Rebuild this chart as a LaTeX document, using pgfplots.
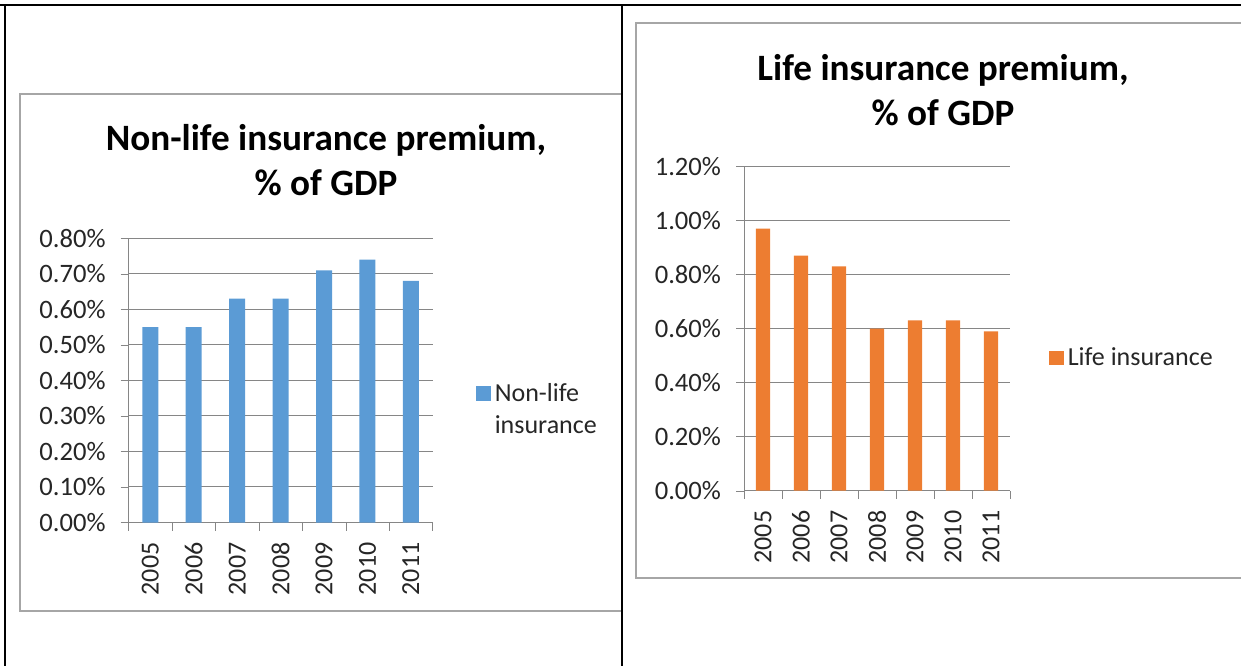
\documentclass[border=0pt]{standalone}
\usepackage{fontspec}
\setmainfont{Carlito}
\usepackage{pgfplots}
\pgfplotsset{compat=1.18}
\definecolor{barblue}{HTML}{5B9BD5}
\definecolor{barorange}{HTML}{ED7D31}
\definecolor{gridgray}{HTML}{868686}
\definecolor{framegray}{HTML}{A6A6A6}
\definecolor{txt}{HTML}{262626}
\pgfplotsset{
  excelbar/.style={
    scale only axis,
    ybar, bar width=#1, bar shift=0pt,
    xmin=-0.5, xmax=6.5,
    xtick={0,...,6},
    xticklabels={2005,2006,2007,2008,2009,2010,2011},
    minor xtick={-0.5,0.5,...,6.5},
    major x tick style={draw=none},
    minor tick length=4pt,
    major tick length=4pt,
    tick align=outside,
    axis x line*=bottom, axis y line*=left,
    axis line style={gridgray,-},
    tick style={gridgray},
    ymajorgrids, grid style={gridgray, line width=0.5pt},
    x tick label style={rotate=90, anchor=east, font=\fontsize{13}{13}\selectfont, text=txt},
    y tick label style={font=\fontsize{13.3}{13.3}\selectfont, text=txt},
    xticklabel shift=2.5pt,
    yticklabel shift=4pt,
    /pgf/number format/assume math mode=true,
    yticklabel={\pgfmathprintnumber[fixed,fixed zerofill,precision=2]{\tick}\%},
    legend cell align=left,
    legend style={draw=none, fill=none, font=\fontsize{13}{16}\selectfont, text=txt, cells={align=left}},
  }
}
\begin{document}
\begin{tikzpicture}
\useasboundingbox (0,0) rectangle (620.5pt,333pt);
% table frame
\draw[black, line width=0.9pt] (0,330.5pt) -- (620.5pt,330.5pt);
\draw[black, line width=0.9pt] (2.6pt,330.5pt) -- (2.6pt,0);
\draw[black, line width=0.9pt] (311pt,330.5pt) -- (311pt,0);
% chart frames
\draw[framegray, line width=0.8pt] (310.5pt,286pt) -- (10pt,286pt) -- (10pt,27.5pt) -- (310.5pt,27.5pt);
\draw[framegray, line width=0.8pt] (620.5pt,321.5pt) -- (318pt,321.5pt) -- (318pt,44pt) -- (620.5pt,44pt);
% titles
\node[align=center, font=\fontsize{18.6}{22.5}\selectfont\bfseries, anchor=center] at (163pt,253pt) {Non-life insurance premium,\\ \% of GDP};
\node[align=center, font=\fontsize{18.6}{22.5}\selectfont\bfseries, anchor=center] at (471.5pt,288pt) {Life insurance premium,\\ \% of GDP};

\begin{axis}[excelbar=8pt,
  at={(64.3pt,71.75pt)}, anchor=south west,
  width=152pt, height=142.1pt,
  ymin=0, ymax=0.8, ytick={0,0.1,...,0.8},
  legend style={at={(1.123,0.397)}, anchor=west},
  legend image code/.code={\fill[#1] (0pt,4.4pt) rectangle (7.2pt,11.6pt);},
]
\addplot[fill=barblue, draw=none] coordinates {(0,0.55) (1,0.55) (2,0.63) (3,0.63) (4,0.71) (5,0.74) (6,0.68)};
\addlegendentry{Non-life\\insurance}
\end{axis}

\begin{axis}[excelbar=7.2pt,
  at={(372pt,87.65pt)}, anchor=south west,
  width=133pt, height=162.1pt,
  ymin=0, ymax=1.2, ytick={0,0.2,...,1.2},
  legend style={at={(1.124,0.41)}, anchor=west},
  legend image code/.code={\fill[#1] (0pt,-3.6pt) rectangle (7.2pt,3.6pt);},
]
\addplot[fill=barorange, draw=none] coordinates {(0,0.97) (1,0.87) (2,0.83) (3,0.60) (4,0.63) (5,0.63) (6,0.59)};
\addlegendentry{Life insurance}
\end{axis}
\end{tikzpicture}
\end{document}
